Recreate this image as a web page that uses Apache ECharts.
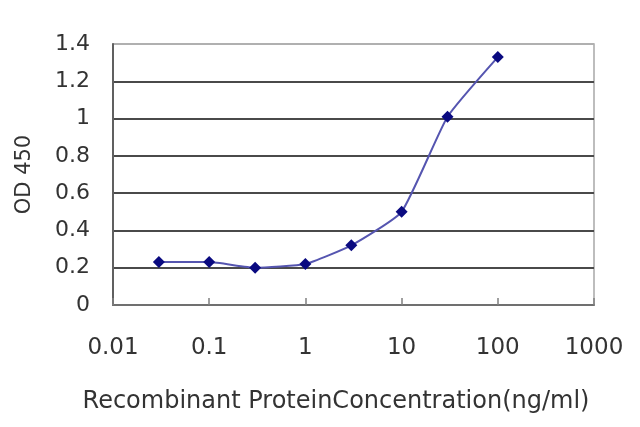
<!DOCTYPE html>
<html>
<head>
<meta charset="utf-8">
<script src="https://cdn.jsdelivr.net/npm/echarts@6/dist/echarts.min.js"></script>
<style>html,body{margin:0;padding:0;background:#fff;}#c{width:640px;height:427px;}</style>
</head>
<body>
<div id="c"></div>
<script>
const concentrations = [0.03, 0.1, 0.3, 1, 3, 10, 30, 100];
const odValues = [0.23, 0.23, 0.20, 0.22, 0.32, 0.50, 1.01, 1.33];
const xTickLabels = ['0.01', '0.1', '1', '10', '100', '1000'];
const yTickLabels = ['0', '0.2', '0.4', '0.6', '0.8', '1', '1.2', '1.4'];
const xTitle = 'Recombinant ProteinConcentration(ng/ml)';
const yTitle = 'OD 450';

const chart = echarts.init(document.getElementById('c'), null, {renderer: 'canvas'});
const font = 'DejaVu Sans';
const gridColors = ['#4a4a4a', '#4a4a4a', '#4a4a4a', '#4a4a4a', '#4a4a4a', '#4a4a4a', '#4a4a4a', '#b0b0b0'];
chart.setOption({
  animation: false,
  backgroundColor: '#fff',
  grid: {left: 113, right: 46, top: 44, bottom: 122, show: true, borderColor: '#a8a8a8', borderWidth: 1.5, backgroundColor: 'transparent'},
  graphic: [{
    type: 'text',
    style: {text: xTitle, x: 336, y: 402, textAlign: 'center', textVerticalAlign: 'middle', font: '24px "DejaVu Sans"', fill: '#333'}
  }],
  xAxis: {
    type: 'log', logBase: 10, min: 0.01, max: 1000,
    axisLine: {show: true, lineStyle: {color: '#707070', width: 2}},
    axisTick: {show: true, inside: true, length: 7, lineStyle: {color: '#808080', width: 1.5}},
    minorTick: {show: false},
    splitLine: {show: false},
    axisLabel: {
      margin: 32, fontFamily: font, fontSize: 23, color: '#333',
      formatter: function (v) {
        const e = Math.round(Math.log10(v));
        return xTickLabels[e + 2];
      }
    }
  },
  yAxis: {
    type: 'value', min: 0, max: 1.4, interval: 0.2,
    name: yTitle, nameLocation: 'middle', nameGap: 78,
    nameTextStyle: {fontFamily: font, fontSize: 21, color: '#333'},
    axisLine: {show: true, lineStyle: {color: '#606060', width: 2}},
    axisTick: {show: false},
    splitLine: {show: true, lineStyle: {color: gridColors, width: 2}},
    axisLabel: {
      margin: 23, fontFamily: font, fontSize: 22, color: '#333',
      formatter: function (v) { return yTickLabels[Math.round(v / 0.2)]; }
    }
  },
  series: [{
    type: 'line',
    data: concentrations.map((c, i) => [c, odValues[i]]),
    smooth: 0.15,
    symbol: 'diamond', symbolSize: 12,
    itemStyle: {color: '#0a0a80'},
    lineStyle: {color: '#5555b0', width: 2},
    z: 5
  }]
});
</script>
</body>
</html>
